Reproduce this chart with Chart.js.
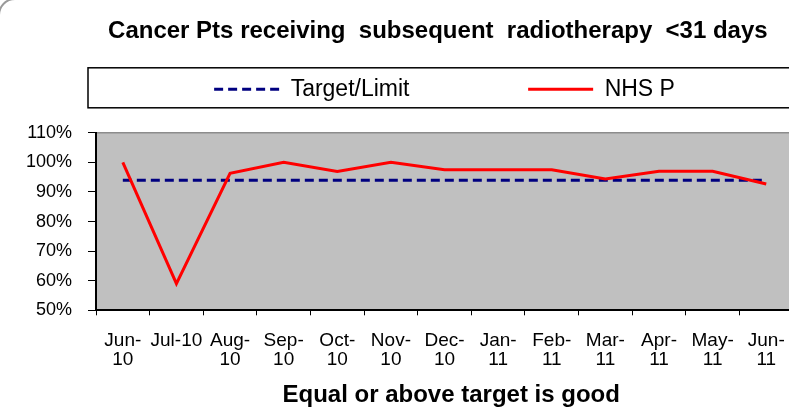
<!DOCTYPE html>
<html>
<head>
<meta charset="utf-8">
<script src="https://cdn.jsdelivr.net/npm/chart.js@4/dist/chart.umd.min.js"></script>
<style>
  html, body { margin: 0; padding: 0; background: #ffffff; overflow: hidden; }
  #wrap { width: 800px; height: 407px; }
</style>
</head>
<body>
<div id="wrap"><canvas id="c" width="800" height="407"></canvas></div>
<script>
// ---- data ----
const months = [["Jun-","10"], "Jul-10", ["Aug-","10"], ["Sep-","10"], ["Oct-","10"], ["Nov-","10"],
                ["Dec-","10"], ["Jan-","11"], ["Feb-","11"], ["Mar-","11"], ["Apr-","11"], ["May-","11"], ["Jun-","11"]];
const nhsP   = [100, 59, 96.3, 100, 96.9, 100, 97.5, 97.5, 97.5, 94.4, 97, 97, 92.7];
const target = [94, 94, 94, 94, 94, 94, 94, 94, 94, 94, 94, 94, 94];
const yTicks = [50, 60, 70, 80, 90, 100, 110];
const titleText = "Cancer Pts receiving  subsequent  radiotherapy  <31 days";
const xTitleText = "Equal or above target is good";
const legendTarget = "Target/Limit";
const legendNhs = "NHS P";

const FONT = "'Liberation Sans', Arial, sans-serif";

const decor = {
  id: 'decor',
  beforeDraw(chart) {
    const ctx = chart.ctx, a = chart.chartArea, lg = chart.legend;
    ctx.save();
    // outer rounded frame (only its corner is visible)
    ctx.strokeStyle = '#9a9a9a';
    ctx.lineWidth = 2;
    ctx.beginPath();
    ctx.moveTo(-1, 60);
    ctx.arcTo(-1, -1, 60, -1, 16);
    ctx.lineTo(900, -1);
    ctx.stroke();
    // plot background
    ctx.fillStyle = '#c0c0c0';
    ctx.fillRect(a.left, a.top, a.right - a.left, a.bottom - a.top);
    ctx.strokeStyle = '#8c8c8c';
    ctx.lineWidth = 1.5;
    ctx.beginPath();
    ctx.moveTo(a.left, a.top);
    ctx.lineTo(a.right, a.top);
    ctx.stroke();
    // legend frame
    ctx.strokeStyle = '#000000';
    ctx.lineWidth = 1.5;
    ctx.strokeRect(88, lg.top, 704, 40);
    ctx.restore();
  }
};

new Chart(document.getElementById('c'), {
  type: 'line',
  data: {
    labels: months,
    datasets: [
      { label: legendNhs, data: nhsP, borderColor: '#ff0000', backgroundColor: '#ff0000',
        borderWidth: 3, pointRadius: 0, tension: 0, fill: false },
      { label: legendTarget, data: target, borderColor: '#000080', backgroundColor: '#000080',
        borderWidth: 3, borderDash: [9, 5], pointRadius: 0, tension: 0, fill: false }
    ]
  },
  options: {
    responsive: false,
    animation: false,
    devicePixelRatio: 1,
    layout: { padding: { left: 20, right: 5, top: 0, bottom: 0 } },
    plugins: {
      title: {
        display: true, fullSize: false, text: titleText + '  ', color: '#000000',
        font: { family: FONT, size: 24, weight: 'bold', lineHeight: 1.2 },
        padding: { top: 17, bottom: 22 }
      },
      subtitle: {
        display: true, fullSize: false, text: '', weight: 500, position: 'top',
        font: { size: 1, lineHeight: 1 }, padding: { top: 21, bottom: 0 }
      },
      legend: {
        display: true, fullSize: false, position: 'top',
        labels: {
          usePointStyle: true, pointStyle: 'line', pointStyleWidth: 65,
          color: '#000000', padding: 10,
          font: { family: FONT, size: 23 },
          sort: (a, b) => b.datasetIndex - a.datasetIndex,
          generateLabels(chart) {
            const items = Chart.defaults.plugins.legend.labels.generateLabels(chart);
            items.forEach(it => {
              const ds = chart.data.datasets[it.datasetIndex];
              it.lineDash = ds.borderDash || [];
              it.lineWidth = 3;
              it.pointStyle = 'line';
              if (it.text === legendTarget) it.text = legendTarget + ' '.repeat(17);
            });
            return items;
          }
        }
      },
      tooltip: { enabled: false }
    },
    scales: {
      x: {
        offset: true,
        grid: { offset: true, drawOnChartArea: false, drawTicks: true, tickLength: 5, color: '#000000', tickColor: '#000000' },
        border: { color: '#000000', width: 2 },
        ticks: {
          autoSkip: false, maxRotation: 0, minRotation: 0, padding: 15,
          color: '#000000', font: { family: FONT, size: 19, lineHeight: 1.05 }
        },
        title: {
          display: true, text: '  ' + xTitleText, color: '#000000',
          font: { family: FONT, size: 24, weight: 'bold', lineHeight: 1.2 },
          padding: { top: -4, bottom: -3 }
        }
      },
      y: {
        min: yTicks[0], max: yTicks[yTicks.length - 1],
        afterBuildTicks(scale) { scale.ticks = yTicks.map(v => ({ value: v })); },
        afterFit(scale) { scale.width = 76; },
        grid: { drawOnChartArea: false, drawTicks: true, tickLength: 8, color: '#000000', tickColor: '#000000' },
        border: { color: '#000000', width: 2 },
        ticks: {
          padding: 16, color: '#000000',
          font: { family: FONT, size: 18 },
          callback: v => v + '%'
        }
      }
    }
  },
  plugins: [decor]
});
</script>
</body>
</html>
